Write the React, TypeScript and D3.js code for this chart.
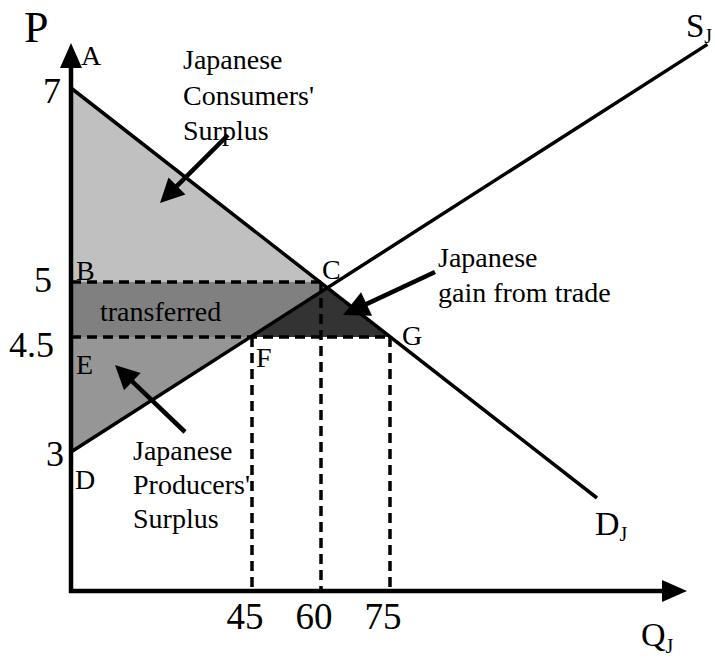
import React from "react";
import * as d3 from "d3";

// ---- Data ----
const priceTicks = [3, 4.5, 5, 7];
const quantityTicks = [45, 60, 75];
const autarkyPrice = 5;
const worldPrice = 4.5;
const autarkyQty = 60;
const supplyQtyAtWorld = 45;
const demandQtyAtWorld = 75;
const demandLine: [number, number][] = [[0, 7], [120, 2.4]];
const supplyLine: [number, number][] = [[0, 3], [144, 7.45]];
const pointLabels = [
  { name: "A", q: 0, p: 7 },
  { name: "B", q: 0, p: 5 },
  { name: "C", q: 60, p: 5 },
  { name: "E", q: 0, p: 4.5 },
  { name: "F", q: 45, p: 4.5 },
  { name: "G", q: 75, p: 4.5 },
  { name: "D", q: 0, p: 3 },
];
const consumerText = ["Japanese", "Consumers'", "Surplus"];
const producerText = ["Japanese", "Producers'", "Surplus"];
const gainText = ["Japanese", "gain from trade"];

// ---- Layout ----
const W = 715;
const H = 658;
const FONT = "'Liberation Serif', 'Times New Roman', serif";
const originX = 71;
const originY = 591;

const x = d3.scaleLinear().domain([0, 45, 60, 75]).range([71, 252, 321, 390]);
const y = d3.scaleLinear().domain([3, 4.5, 5, 7]).range([452, 337, 282, 88]);

const labelOffsets: Record<string, [number, number]> = {
  A: [10, -23],
  B: [5, -2],
  C: [1, -3],
  E: [5, 37],
  F: [4, 30],
  G: [12, 8],
  D: [4, 37],
};
const priceLabelPos: Record<string, [number, number]> = {
  "7": [61, 103],
  "5": [52, 292],
  "4.5": [54, 357],
  "3": [64, 466],
};

function intersect(a: [number, number][], b: [number, number][]) {
  const [x1, y1] = [x(a[0][0]), y(a[0][1])];
  const [x2, y2] = [x(a[1][0]), y(a[1][1])];
  const [x3, y3] = [x(b[0][0]), y(b[0][1])];
  const [x4, y4] = [x(b[1][0]), y(b[1][1])];
  const den = (x1 - x2) * (y3 - y4) - (y1 - y2) * (x3 - x4);
  const t = ((x1 - x3) * (y3 - y4) - (y1 - y3) * (x3 - x4)) / den;
  return [x1 + t * (x2 - x1), y1 + t * (y2 - y1)];
}

function lineX(l: [number, number][], py: number) {
  const [x1, y1] = [x(l[0][0]), y(l[0][1])];
  const [x2, y2] = [x(l[1][0]), y(l[1][1])];
  return x1 + ((py - y1) / (y2 - y1)) * (x2 - x1);
}

function arrowHead(fx: number, fy: number, tx: number, ty: number, len: number, hw: number) {
  const dx = tx - fx;
  const dy = ty - fy;
  const d = Math.hypot(dx, dy);
  const ux = dx / d;
  const uy = dy / d;
  const bx = tx - ux * len;
  const by = ty - uy * len;
  return `${tx},${ty} ${bx - uy * hw},${by + ux * hw} ${bx + uy * hw},${by - ux * hw}`;
}

function Arrow({ from, to, len = 22, hw = 11 }: { from: [number, number]; to: [number, number]; len?: number; hw?: number }) {
  const d = Math.hypot(to[0] - from[0], to[1] - from[1]);
  const ex = to[0] - ((to[0] - from[0]) / d) * (len - 2);
  const ey = to[1] - ((to[1] - from[1]) / d) * (len - 2);
  return (
    <g>
      <line x1={from[0]} y1={from[1]} x2={ex} y2={ey} stroke="#000" strokeWidth={4.5} />
      <polygon points={arrowHead(from[0], from[1], to[0], to[1], len, hw)} fill="#000" />
    </g>
  );
}

export default function App() {
  const line = d3.line<[number, number]>().x((d) => x(d[0])).y((d) => y(d[1]));
  const C = intersect(demandLine, supplyLine);
  const pA = [x(0), y(7)];
  const yB = y(autarkyPrice);
  const yE = y(worldPrice);
  const cAtB = lineX(demandLine, yB);
  const fX = lineX(supplyLine, yE);
  const gX = lineX(demandLine, yE);
  const dY = y(supplyLine[0][1]);

  const poly = (pts: number[][]) => pts.map((p) => p.join(",")).join(" ");

  const dash = "10 6";
  return (
    <svg width={W} height={H} style={{ position: "absolute", left: 0, top: 0, background: "#fff" }} fontFamily={FONT}>
      <rect width={W} height={H} fill="#fff" />
      {/* shaded areas */}
      <polygon points={poly([[originX, pA[1]], [originX, yB], [cAtB, yB]])} fill="#c0c0c0" />
      <polygon points={poly([[originX, yB], [cAtB, yB], C, [fX, yE], [originX, yE]])} fill="#808080" />
      <polygon points={poly([[originX, yE], [fX, yE], [originX, dY]])} fill="#969696" />
      <polygon points={poly([C, [gX, yE], [fX, yE]])} fill="#333333" />

      {/* dashed guides */}
      <g stroke="#000" strokeWidth={3.5} strokeDasharray={dash} fill="none">
        <line x1={originX} y1={yB} x2={x(autarkyQty)} y2={yB} />
        <line x1={originX} y1={yE} x2={x(demandQtyAtWorld)} y2={yE} />
        <line x1={x(supplyQtyAtWorld)} y1={yE} x2={x(supplyQtyAtWorld)} y2={originY} />
        <line x1={x(autarkyQty)} y1={yB} x2={x(autarkyQty)} y2={originY} />
        <line x1={x(demandQtyAtWorld)} y1={yE} x2={x(demandQtyAtWorld)} y2={originY} />
      </g>

      {/* curves */}
      <path d={line(demandLine) || ""} stroke="#000" strokeWidth={3.5} fill="none" />
      <path d={line(supplyLine) || ""} stroke="#000" strokeWidth={3.5} fill="none" />

      {/* axes */}
      <line x1={originX} y1={originY + 2} x2={originX} y2={62} stroke="#000" strokeWidth={4.5} />
      <polygon points={`${originX},43 ${originX - 11},68 ${originX + 11},68`} fill="#000" />
      <line x1={originX - 2} y1={originY} x2={666} y2={originY} stroke="#000" strokeWidth={4.5} />
      <polygon points={`687,${originY} 662,${originY - 11} 662,${originY + 11}`} fill="#000" />

      {/* tick labels */}
      {priceTicks.map((p) => {
        const k = String(p);
        const [lx, ly] = priceLabelPos[k];
        return (
          <text key={k} x={lx} y={ly} fontSize={36} textAnchor="end">
            {k}
          </text>
        );
      })}
      {quantityTicks.map((q) => (
        <text key={q} x={x(q) - 7} y={629} fontSize={37} textAnchor="middle">
          {q}
        </text>
      ))}

      {/* point labels */}
      {pointLabels.map((l) => {
        const [ox, oy] = labelOffsets[l.name];
        const px = l.q === 0 ? originX : x(l.q);
        return (
          <text key={l.name} x={px + ox} y={y(l.p) + oy} fontSize={28}>
            {l.name}
          </text>
        );
      })}

      {/* axis titles */}
      <text x={24} y={42} fontSize={44}>P</text>
      <text x={641} y={646} fontSize={34}>
        Q<tspan fontSize={20} dy={7}>J</tspan>
      </text>
      <text x={595} y={535} fontSize={34}>
        D<tspan fontSize={20} dy={6}>J</tspan>
      </text>
      <text x={686} y={37} fontSize={33}>
        S<tspan fontSize={20} dy={6}>J</tspan>
      </text>

      {/* annotations */}
      {consumerText.map((t, i) => (
        <text key={t} x={183} y={69 + i * 35.5} fontSize={28}>
          {t}
        </text>
      ))}
      <Arrow from={[228, 135]} to={[160, 203]} len={24} hw={12} />

      <text x={100} y={321} fontSize={28}>transferred</text>

      {producerText.map((t, i) => (
        <text key={t + i} x={133} y={460 + i * 34} fontSize={28}>
          {t}
        </text>
      ))}
      <Arrow from={[185, 432]} to={[115, 365]} len={24} hw={12} />

      {gainText.map((t, i) => (
        <text key={t} x={438} y={267 + i * 35} fontSize={28}>
          {t}
        </text>
      ))}
      <Arrow from={[435, 272]} to={[343, 315]} len={26} hw={13} />
    </svg>
  );
}
